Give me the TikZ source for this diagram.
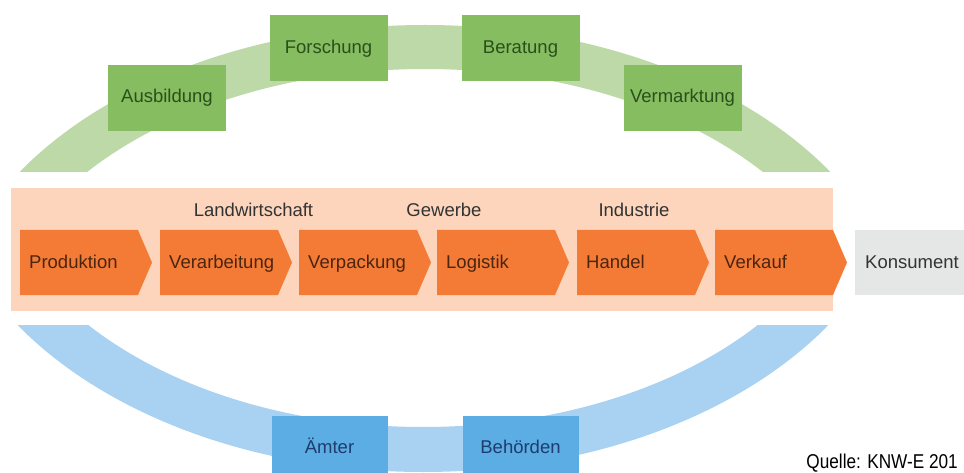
\documentclass[tikz,border=0pt]{standalone}
\usepackage{fontspec}
\setmainfont{Liberation Sans}
\definecolor{peach}{HTML}{FCD5BC}
\definecolor{chevfill}{HTML}{F47B36}
\definecolor{chevtext}{HTML}{4A2510}
\definecolor{gband}{HTML}{BDD9A7}
\definecolor{gboxc}{HTML}{86BD60}
\definecolor{gtext}{HTML}{2A4F1A}
\definecolor{bband}{HTML}{A9D2F2}
\definecolor{bboxc}{HTML}{5BADE3}
\definecolor{btext}{HTML}{1E3C6E}
\definecolor{konsfill}{HTML}{E5E6E6}
\definecolor{labeltext}{HTML}{333333}
\tikzset{
  txt/.style={font=\fontsize{18.5}{22}\selectfont, inner sep=0pt, text height=13.5pt, text depth=4pt},
  gbox/.style={txt, fill=gboxc, text=gtext, minimum width=118pt, minimum height=66pt},
  bbox/.style={txt, fill=bboxc, text=btext, minimum width=116pt, minimum height=66pt},
  chevlabel/.style={txt, text=chevtext, anchor=west},
  sectorlabel/.style={txt, text=labeltext},
  chevshape/.style={fill=chevfill},
}
\begin{document}
\begin{tikzpicture}[x=1pt,y=-1pt]
\useasboundingbox (0,0) rectangle (964,473);
\begin{scope}
\clip (0,0) rectangle (964,473);
% green arc band
\begin{scope}
\clip (0,0) rectangle (964,172);
\fill[gband, even odd rule] (425,349) ellipse [x radius=484, y radius=324]
  (425,349) ellipse [x radius=436, y radius=280];
\end{scope}
% blue arc band
\begin{scope}
\clip (0,325) rectangle (964,480);
\fill[bband, even odd rule] (423,148) ellipse [x radius=484, y radius=324]
  (423,148) ellipse [x radius=433, y radius=279];
\end{scope}
% peach band
\fill[peach] (11,188) rectangle (833,311);
% chevrons
\foreach \x/\nm/\lab in {20/prod/Produktion, 160/verarb/Verarbeitung, 299/verpack/Verpackung, 437/logist/Logistik, 577/handel/Handel, 715/verkauf/Verkauf}{
  \fill[chevshape] (\x,230) -- ++(118,0) -- ++(14,32.5) -- ++(-14,32.5) -- (\x,295) -- cycle;
  \node[chevlabel] (\nm) at (\x+9,263.5) {\lab};
}
% Konsument
\fill[konsfill] (855,230) rectangle (964,295);
\node[txt, text=labeltext, anchor=west] (kons) at (865,263.5) {Konsument};
% sector labels
\node[sectorlabel] (landw) at (253.5,212) {Landwirtschaft};
\node[sectorlabel] (gewerbe) at (444,212) {Gewerbe};
\node[sectorlabel] (industrie) at (634,212) {Industrie};
% green boxes
\node[gbox] (ausb) at (167,98) {Ausbildung};
\node[gbox] (forsch) at (328.5,48.5) {Forschung};
\node[gbox] (berat) at (520.5,48.5) {Beratung};
\node[gbox] (vermark) at (682.5,98) {Vermarktung};
% blue boxes
\node[bbox] (aemter) at (329.5,449) {Ämter};
\node[bbox] (behoerden) at (520.5,449) {Behörden};
\end{scope}
% source
\node[inner sep=0pt, anchor=base east, text=black, font=\fontsize{20}{22}\selectfont] (quelle) at (958,468.5) {\scalebox{0.86}[1]{Quelle: KNW-E 201}};
\end{tikzpicture}
\end{document}
